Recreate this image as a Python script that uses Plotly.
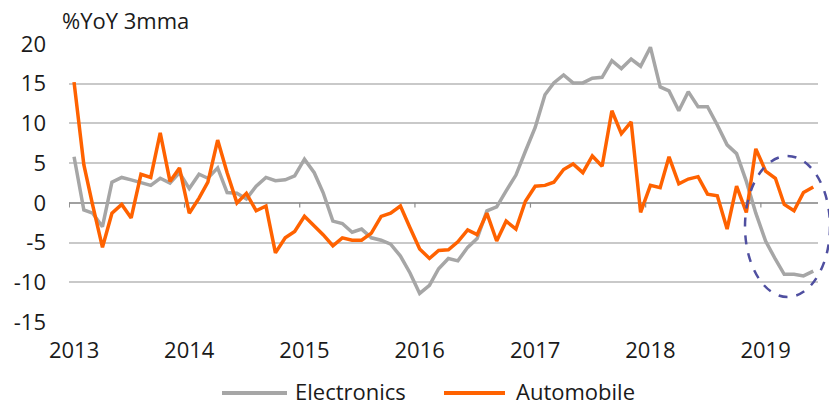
import pandas as pd
import plotly.graph_objects as go

# ---- data ----
months = pd.date_range("2013-01-01", periods=78, freq="MS")

electronics = [
    5.8, -0.9, -1.3, -3.0, 2.6, 3.2, 2.9, 2.6, 2.2, 3.1, 2.5, 3.8,
    1.8, 3.6, 3.1, 4.4, 1.3, 1.2, 0.5, 2.1, 3.2, 2.8, 2.9, 3.4,
    5.5, 3.8, 1.3, -2.3, -2.6, -3.7, -3.3, -4.4, -4.7, -5.2, -6.7, -8.8,
    -11.4, -10.4, -8.3, -7.0, -7.3, -5.6, -4.5, -1.0, -0.5, 1.5, 3.5, 6.5,
    9.5, 13.6, 15.1, 16.1, 15.1, 15.1, 15.7, 15.8, 17.9, 16.9, 18.1, 17.2,
    19.6, 14.6, 14.1, 11.6, 14.0, 12.1, 12.1, 9.8, 7.3, 6.2, 2.7, -1.3,
    -4.8, -7.1, -9.0, -9.0, -9.2, -8.6,
]

automobile = [
    15.2, 4.8, -0.3, -5.6, -1.3, -0.2, -1.9, 3.6, 3.2, 8.8, 2.7, 4.4,
    -1.3, 0.6, 2.6, 7.9, 3.8, 0.0, 1.2, -1.0, -0.4, -6.3, -4.4, -3.6,
    -1.7, -2.9, -4.0, -5.4, -4.4, -4.7, -4.7, -3.8, -1.7, -1.3, -0.4, -3.1,
    -5.8, -7.0, -6.0, -5.9, -4.9, -3.4, -4.0, -1.3, -4.8, -2.3, -3.3, 0.2,
    2.1, 2.2, 2.6, 4.2, 4.9, 3.8, 5.9, 4.6, 11.6, 8.7, 10.2, -1.2,
    2.2, 1.9, 5.8, 2.4, 3.0, 3.3, 1.1, 0.9, -3.3, 2.1, -1.2, 6.8,
    4.0, 3.1, -0.2, -1.0, 1.3, 2.0,
]

year_labels = ["2013", "2014", "2015", "2016", "2017", "2018", "2019"]
y_ticks = [-15, -10, -5, 0, 5, 10, 15, 20]
y_tick_text = ["-15", "-10", "-5", "0", "5", "10", "15", "20"]

series_names = ["Electronics", "Automobile"]
series_colors = ["#A6A6A6", "#FF6200"]

FONT = "Open Sans"
FS = 22
TXT = "#1A1A1A"

# ---- figure ----
fig = go.Figure()
for name, vals, col in zip(series_names, [electronics, automobile], series_colors):
    fig.add_trace(go.Scatter(x=months, y=vals, mode="lines", name=name,
                             line=dict(color=col, width=3.5), showlegend=False))

year_dates = [pd.Timestamp(f"{y}-01-01") for y in year_labels]
tick_mark_dates = [d - pd.Timedelta(days=15) for d in year_dates]

# small tick marks hanging from the zero line
for d in tick_mark_dates:
    fig.add_shape(type="line", xref="x", yref="y", x0=d, x1=d, y0=0, y1=-0.6,
                  line=dict(color="#8C8C8C", width=1.2))

W, H = 829, 407
L, R, T, B = 69, 11, 44, 85
pw, ph = W - L - R, H - T - B

def px(x):
    return (x - L) / pw

def py(y):
    return (H - B - y) / ph

# dashed ellipse highlight
fig.add_shape(type="circle", xref="paper", yref="paper",
              x0=px(745), x1=px(830), y0=py(297), y1=py(156),
              line=dict(color="#4F4FA0", width=2.5, dash="dash"), layer="above")

# custom legend
leg_y = py(391)
legend_items = [(222, 287, 294), (444, 505, 515)]
for (x0, x1, tx), name, col in zip(legend_items, series_names, series_colors):
    fig.add_shape(type="line", xref="paper", yref="paper", x0=px(x0), x1=px(x1),
                  y0=py(393), y1=py(393), line=dict(color=col, width=4))
    fig.add_annotation(xref="paper", yref="paper", x=px(tx), y=leg_y, text=name,
                       showarrow=False, xanchor="left", yanchor="middle",
                       borderpad=0,
                       font=dict(family=FONT, size=FS, color=TXT))

# title
fig.add_annotation(xref="paper", yref="paper", x=px(60), y=py(20), text="%YoY 3mma",
                   showarrow=False, xanchor="left", yanchor="middle",
                   font=dict(family=FONT, size=FS, color=TXT))

fig.update_layout(
    width=W, height=H,
    margin=dict(l=L, r=R, t=T, b=B, autoexpand=False),
    paper_bgcolor="white", plot_bgcolor="white",
    font=dict(family=FONT, size=FS, color=TXT),
    xaxis=dict(
        range=[pd.Timestamp("2012-12-16"), pd.Timestamp("2019-06-16")],
        tickvals=year_dates, ticktext=year_labels,
        showgrid=False, showline=False, zeroline=False, ticks="",
        ticklabelstandoff=13, automargin=False,
    ),
    yaxis=dict(
        range=[-15, 20], tickvals=y_ticks, ticktext=y_tick_text,
        showgrid=True, gridcolor="#C9C9C9", gridwidth=1.5,
        zeroline=True, zerolinecolor="#A0A0A0", zerolinewidth=1.5,
        showline=False, ticks="", ticklabelstandoff=22, automargin=False,
    ),
)

fig.write_html(
    "out.html",
    config={"displayModeBar": False},
    post_script="document.body.style.margin='0';document.body.style.overflow='hidden';",
)
